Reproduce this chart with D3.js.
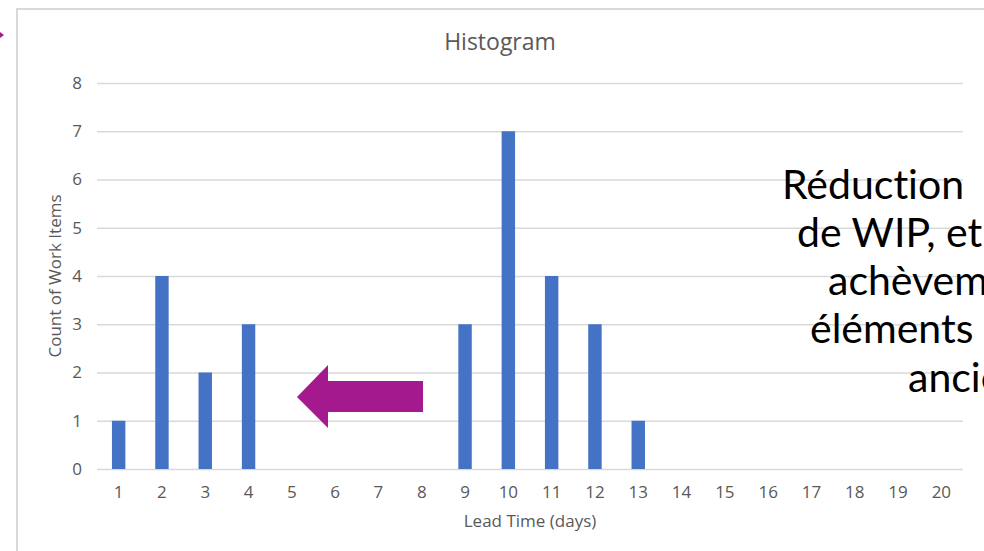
<!DOCTYPE html>
<html>
<head>
<meta charset="utf-8">
<script src="https://cdn.jsdelivr.net/npm/d3@7"></script>
<style>
  html, body { margin: 0; padding: 0; background: #fff; overflow: hidden; }
  svg { display: block; }
  text { font-variant-ligatures: none; }
</style>
</head>
<body>
<svg id="chart" width="984" height="551"></svg>
<script>
// ---- data ----
const categories = ["1","2","3","4","5","6","7","8","9","10","11","12","13","14","15","16","17","18","19","20"];
const counts = [1, 4, 2, 3, 0, 0, 0, 0, 3, 7, 4, 3, 1, 0, 0, 0, 0, 0, 0, 0];
const yTickValues = [0, 1, 2, 3, 4, 5, 6, 7, 8];
const chartTitle = "Histogram";
const xTitle = "Lead Time (days)";
const yTitle = "Count of Work Items";
const noteLines = ["Réduction", "de WIP, et", "achèvement", "éléments", "anciens"];

// ---- layout ----
const plot = { left: 97, right: 963, top: 83, bottom: 469 };
const textColor = "#595959";
const gridColor = "#d9d9d9";
const barColor = "#4472c4";
const purple = "#a5198e";
const font = "'Open Sans', sans-serif";

const svg = d3.select("#chart");

// frame of chart area
svg.append("rect")
  .attr("x", 17).attr("y", 9)
  .attr("width", 1000).attr("height", 600)
  .attr("fill", "#fff")
  .attr("stroke", gridColor).attr("stroke-width", 2);

// tiny arrow tip at top-left (part of slide)
svg.append("path")
  .attr("d", "M0,32 L4,35 L0,38 Z")
  .attr("fill", purple);

const x = d3.scaleBand()
  .domain(categories)
  .range([plot.left, plot.right])
  .paddingInner(0.69)
  .paddingOuter(0.345);

const y = d3.scaleLinear()
  .domain([0, 8])
  .range([plot.bottom, plot.top]);

// y axis with gridlines
const yAxis = svg.append("g")
  .attr("transform", `translate(${plot.left},0)`)
  .call(d3.axisLeft(y).tickValues(yTickValues).tickSize(-(plot.right - plot.left)).tickPadding(15).tickFormat(d3.format("d")));
yAxis.select(".domain").remove();
yAxis.selectAll(".tick line").attr("stroke", gridColor).attr("stroke-width", 1.3);
yAxis.selectAll(".tick text")
  .attr("fill", textColor)
  .style("font-family", font)
  .style("font-size", "17px");

// bars
svg.append("g").selectAll("rect")
  .data(categories.map((c, i) => ({ c, v: counts[i] })))
  .join("rect")
  .attr("x", d => x(d.c))
  .attr("y", d => y(d.v))
  .attr("width", x.bandwidth())
  .attr("height", d => y(0) - y(d.v))
  .attr("fill", barColor);

// x axis labels
const xAxis = svg.append("g")
  .attr("transform", `translate(0,${plot.bottom})`)
  .call(d3.axisBottom(x).tickSize(0).tickPadding(17));
xAxis.select(".domain").remove();
xAxis.selectAll(".tick text")
  .attr("fill", textColor)
  .style("font-family", font)
  .style("font-size", "17px");

// titles
svg.append("text")
  .attr("x", 500).attr("y", 50)
  .attr("text-anchor", "middle")
  .attr("fill", textColor)
  .style("font-family", font)
  .style("font-size", "23px")
  .text(chartTitle);

svg.append("text")
  .attr("x", 530).attr("y", 527)
  .attr("text-anchor", "middle")
  .attr("fill", textColor)
  .style("font-family", font)
  .style("font-size", "17px")
  .text(xTitle);

svg.append("text")
  .attr("transform", "translate(61,276) rotate(-90)")
  .attr("text-anchor", "middle")
  .attr("fill", textColor)
  .style("font-family", font)
  .style("font-size", "17px")
  .text(yTitle);

// big purple arrow pointing left
const arrowPts = [[297,397],[328,365],[328,381],[423,381],[423,412],[328,412],[328,428]];
svg.append("path")
  .attr("d", d3.line()(arrowPts) + "Z")
  .attr("fill", purple);

// overlay note text
const noteX = [782, 797, 828, 810, 908];
const noteY = [199, 247, 295, 343, 392];
svg.append("g").selectAll("text")
  .data(noteLines)
  .join("text")
  .attr("x", (d, i) => noteX[i])
  .attr("y", (d, i) => noteY[i])
  .attr("fill", "#000")
  .style("font-family", "Lato, sans-serif")
  .style("font-size", "41px")
  .text(d => d);
</script>
</body>
</html>
